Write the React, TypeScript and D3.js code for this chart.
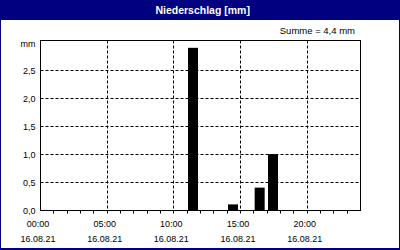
import React from "react";
import * as d3 from "d3";

const hours = [11, 14, 16, 17];
const values = [2.9, 0.1, 0.4, 1.0];
const yTicks = [0, 0.5, 1.0, 1.5, 2.0, 2.5];
const yTickLabels = ["0,0", "0,5", "1,0", "1,5", "2,0", "2,5"];
const xMajor = [0, 5, 10, 15, 20];
const xTimeLabels = ["00:00", "05:00", "10:00", "15:00", "20:00"];
const xDateLabel = "16.08.21";
const title = "Niederschlag [mm]";
const sumLabel = "Summe = 4,4 mm";
const unitLabel = "mm";

const W = 400;
const H = 250;
const NAVY = "#000080";
const FONT = "'Liberation Sans', Arial, sans-serif";

export default function App() {
  const x = d3.scaleLinear().domain([0, 24]).range([40, 360]);
  const y = d3.scaleLinear().domain([0, 3.04]).range([210, 40]);
  const px = (v: number) => Math.round(v) + 0.5;
  const minor = d3.range(1, 24);
  const x0 = px(x(0));
  const x1 = px(x(24));
  const y0 = px(y(0));
  const y1 = px(y(3.04));

  return (
    <svg
      width={W}
      height={H}
      style={{ position: "absolute", left: 0, top: 0 }}
      fontFamily={FONT}
    >
      <rect x={0} y={0} width={W} height={H} fill={NAVY} />
      <rect x={1} y={20} width={398} height={228} fill="#ffffff" />
      <text
        x={202.7}
        y={13.5}
        textAnchor="middle"
        fill="#ffffff"
        fontWeight="bold"
        fontSize={10.5}
      >
        {title}
      </text>
      <text x={355} y={34} textAnchor="end" fontSize={9.5} fill="#000">
        {sumLabel}
      </text>

      {/* gridlines */}
      {yTicks.slice(1).map((t) => (
        <line
          key={"gy" + t}
          x1={x0}
          x2={x1}
          y1={px(y(t))}
          y2={px(y(t))}
          stroke="#000"
          strokeWidth={1}
          strokeDasharray="3,2"
        />
      ))}
      {xMajor.slice(1).map((t) => (
        <line
          key={"gx" + t}
          x1={px(x(t))}
          x2={px(x(t))}
          y1={y1}
          y2={y0}
          stroke="#000"
          strokeWidth={1}
          strokeDasharray="3,2"
        />
      ))}

      {/* bars */}
      {hours.map((h, i) => (
        <rect
          key={"b" + h}
          x={x(h + 0.1)}
          width={x(h + 0.85) - x(h + 0.1)}
          y={y(values[i])}
          height={y(0) - y(values[i])}
          fill="#000"
        />
      ))}

      {/* frame */}
      <rect
        x={x0}
        y={y1}
        width={x1 - x0}
        height={y0 - y1}
        fill="none"
        stroke="#000"
        strokeWidth={1}
      />

      {/* minor ticks */}
      {minor.map((t) => (
        <line
          key={"t" + t}
          x1={px(x(t))}
          x2={px(x(t))}
          y1={y0}
          y2={y0 + 3}
          stroke="#000"
          strokeWidth={1}
        />
      ))}

      {/* y labels */}
      {yTicks.map((t, i) => (
        <text
          key={"yl" + t}
          x={35.5}
          y={px(y(t)) + 3.5}
          textAnchor="end"
          fontSize={9}
          fill="#000"
        >
          {yTickLabels[i]}
        </text>
      ))}
      <text x={35.5} y={47} textAnchor="end" fontSize={9} fill="#000">
        {unitLabel}
      </text>

      {/* x labels */}
      {xMajor.map((t, i) => (
        <g key={"xl" + t}>
          <text
            x={x(t) - 2}
            y={227}
            textAnchor="middle"
            fontSize={9}
            fill="#000"
          >
            {xTimeLabels[i]}
          </text>
          <text
            x={x(t) - 2}
            y={241.5}
            textAnchor="middle"
            fontSize={9}
            fill="#000"
          >
            {xDateLabel}
          </text>
        </g>
      ))}
    </svg>
  );
}
